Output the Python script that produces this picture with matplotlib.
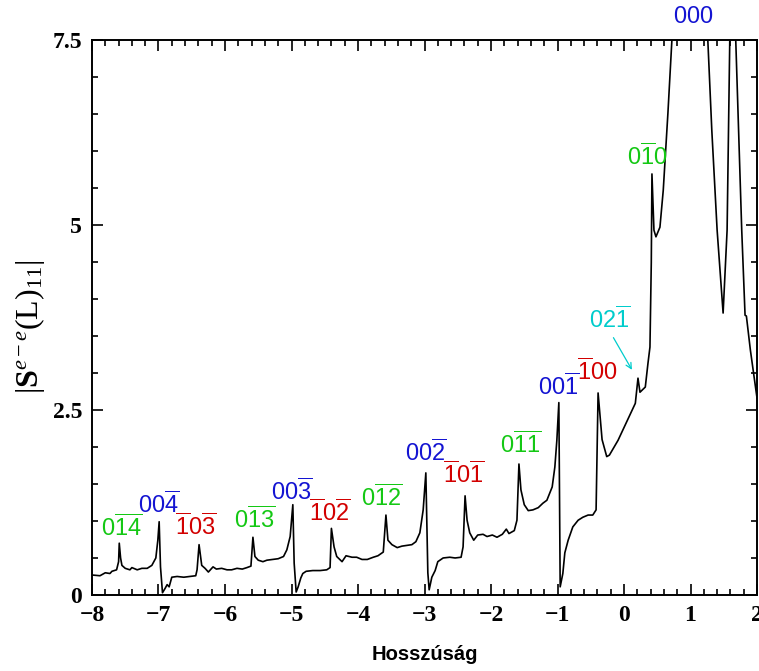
import matplotlib
matplotlib.use("Agg")
import matplotlib.pyplot as plt
from matplotlib.ticker import MultipleLocator, FixedLocator

plt.rcParams['mathtext.fontset'] = 'custom'
plt.rcParams['mathtext.rm'] = 'Liberation Serif'
plt.rcParams['mathtext.it'] = 'Liberation Serif:italic'
plt.rcParams['mathtext.bf'] = 'Liberation Serif:bold'
plt.rcParams['mathtext.sf'] = 'Liberation Sans'

# ---- data ----
L = [-8.00, -7.88, -7.80, -7.73, -7.70, -7.63, -7.60, -7.59, -7.57, -7.55, -7.50, -7.43, -7.40,
     -7.32, -7.25, -7.17, -7.10, -7.04, -7.01, -6.99, -6.97, -6.94, -6.90, -6.87, -6.84, -6.80,
     -6.72, -6.62, -6.53, -6.44, -6.42, -6.39, -6.35, -6.30, -6.25, -6.18, -6.13, -6.05, -5.97,
     -5.90, -5.82, -5.74, -5.67, -5.61, -5.58, -5.55, -5.50, -5.43, -5.37, -5.28, -5.20, -5.12,
     -5.07, -5.02, -4.98, -4.96, -4.93, -4.90, -4.86, -4.83, -4.78, -4.68, -4.57, -4.47, -4.42,
     -4.40, -4.36, -4.32, -4.24, -4.18, -4.09, -4.02, -3.94, -3.86, -3.77, -3.70, -3.62, -3.58,
     -3.55, -3.49, -3.41, -3.34, -3.26, -3.19, -3.13, -3.07, -3.02, -2.98, -2.95, -2.93, -2.89,
     -2.84, -2.80, -2.72, -2.62, -2.54, -2.45, -2.42, -2.39, -2.36, -2.32, -2.26, -2.20, -2.12,
     -2.06, -1.98, -1.91, -1.83, -1.77, -1.73, -1.65, -1.61, -1.58, -1.55, -1.50, -1.44, -1.37,
     -1.29, -1.22, -1.16, -1.08, -1.04, -1.01, -0.98, -0.96, -0.92, -0.89, -0.84, -0.77, -0.69,
     -0.62, -0.54, -0.47, -0.42, -0.39, -0.33, -0.26, -0.22, -0.09, 0.05, 0.17, 0.21, 0.24,
     0.32, 0.36, 0.39, 0.41, 0.42, 0.45, 0.48, 0.54, 0.59, 0.66, 0.72, 0.85, 1.00, 1.15, 1.26,
     1.32, 1.40, 1.49, 1.55, 1.59, 1.63, 1.68, 1.77, 1.82, 1.84, 1.90, 2.00]
S11 = [0.27, 0.26, 0.30, 0.29, 0.32, 0.34, 0.45, 0.70, 0.50, 0.40, 0.36, 0.34, 0.37,
       0.34, 0.36, 0.36, 0.40, 0.50, 0.74, 0.99, 0.38, 0.03, 0.09, 0.14, 0.11, 0.24,
       0.25, 0.24, 0.25, 0.26, 0.34, 0.68, 0.40, 0.36, 0.31, 0.38, 0.35, 0.36, 0.34,
       0.34, 0.36, 0.35, 0.37, 0.39, 0.78, 0.52, 0.47, 0.45, 0.47, 0.48, 0.49, 0.52,
       0.61, 0.79, 1.22, 0.43, 0.04, 0.11, 0.23, 0.29, 0.32, 0.33, 0.33, 0.34, 0.37,
       0.90, 0.65, 0.52, 0.45, 0.53, 0.51, 0.51, 0.48, 0.48, 0.51, 0.53, 0.58, 1.08,
       0.74, 0.68, 0.64, 0.66, 0.67, 0.68, 0.72, 0.84, 1.15, 1.65, 0.30, 0.07, 0.24,
       0.33, 0.45, 0.50, 0.51, 0.50, 0.51, 0.65, 1.34, 1.01, 0.84, 0.74, 0.81, 0.82,
       0.79, 0.81, 0.78, 0.82, 0.89, 0.83, 0.87, 1.01, 1.77, 1.42, 1.22, 1.14, 1.15,
       1.18, 1.24, 1.28, 1.46, 1.73, 2.09, 2.60, 0.11, 0.29, 0.57, 0.74, 0.92, 1.01,
       1.05, 1.08, 1.08, 1.15, 2.73, 2.10, 1.87, 1.89, 2.09, 2.36, 2.59, 2.93, 2.74,
       2.81, 3.13, 3.35, 4.49, 5.69, 4.93, 4.84, 4.97, 5.47, 6.51, 7.50, 10.5, 12.0, 10.5, 7.50,
       6.28, 4.93, 3.81, 4.93, 7.50, 10.0, 7.50, 4.93, 3.78, 3.77, 3.31, 2.66]

peak_labels = [r'0\overline{14}', r'00\overline{4}', r'\overline{1}0\overline{3}', r'0\overline{13}',
               r'00\overline{3}', r'\overline{1}0\overline{2}', r'0\overline{12}', r'00\overline{2}',
               r'\overline{1}0\overline{1}', r'0\overline{11}', r'00\overline{1}', r'\overline{1}00',
               r'02\overline{1}', r'0\overline{1}0', r'000']
label_x = [-7.556, -7.0, -6.44, -5.56, -5.0, -4.42, -3.65, -2.98, -2.41, -1.55, -0.985, -0.41,
           -0.21, 0.35, 1.04]
label_y = [0.80, 1.11, 0.81, 0.905, 1.28, 1.00, 1.20, 1.81, 1.51, 1.92, 2.70, 2.91, 3.61, 5.81, 7.73]
label_colors = ['#14c814', '#1414d2', '#d20000', '#14c814', '#1414d2', '#d20000', '#14c814',
                '#1414d2', '#d20000', '#14c814', '#1414d2', '#d20000', '#00cccc', '#14c814', '#1414d2']

xticks = [-8, -7, -6, -5, -4, -3, -2, -1, 0, 1, 2]
yticks = [0, 2.5, 5, 7.5]
ytick_labels = ['0', '2.5', '5', '7.5']

# ---- figure ----
fig = plt.figure(figsize=(7.59, 6.71), dpi=100)
ax = fig.add_axes([0.1212, 0.1133, 0.8762, 0.8271])

ax.plot(L, S11, color='black', lw=1.2)
ax.set_xlim(-8, 2)
ax.set_ylim(0, 7.5)

ax.xaxis.set_major_locator(FixedLocator(xticks))
ax.xaxis.set_minor_locator(MultipleLocator(0.2))
ax.yaxis.set_major_locator(FixedLocator(yticks))
ax.yaxis.set_minor_locator(MultipleLocator(0.5))
ax.set_yticklabels(ytick_labels)
ax.set_xticklabels(['\u2212%d' % -t if t < 0 else '%d' % t for t in xticks])
ax.tick_params(which='both', direction='in', top=True, right=True, width=1.2)
ax.tick_params(which='major', length=8, pad=7)
ax.tick_params(which='minor', length=4)
for lab in ax.get_xticklabels() + ax.get_yticklabels():
    lab.set_fontfamily('Liberation Serif')
    lab.set_fontweight('bold')
    lab.set_fontsize(17)
for sp in ax.spines.values():
    sp.set_linewidth(1.4)

ax.set_xlabel('Hossz\u00fas\u00e1g', fontfamily='Liberation Sans', fontweight='bold',
              fontsize=14.5, labelpad=14)
ax.set_ylabel(r'$|\mathbf{S}^{e-e}(\mathrm{L})_{11}|$', fontsize=23)
ax.yaxis.set_label_coords(-0.068, 0.483)

for txt, x, y, c in zip(peak_labels, label_x, label_y, label_colors):
    ax.text(x, y, r'$\mathsf{' + txt + '}$', color=c, fontsize=17, ha='center',
            va='baseline', clip_on=False)

ax.annotate('', xy=(0.14, 3.01), xytext=(-0.18, 3.51),
            arrowprops=dict(arrowstyle='->', color='#00cccc', lw=0.9))

fig.savefig('out.png', dpi=100)
